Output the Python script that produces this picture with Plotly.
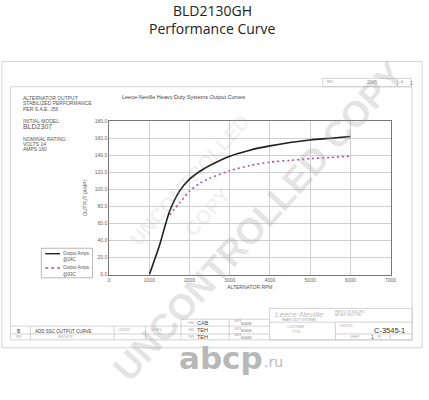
import plotly.graph_objects as go

# ---- data ----
rpm_24c = [1000, 1250, 1500, 1750, 2000, 2250, 2500, 3000, 3500, 4000, 4500, 5000, 5500, 6000]
amps_24c = [0, 34, 74, 98, 112, 121, 128, 139, 146, 151, 155, 158, 160, 162]
rpm_93c = [1500, 1750, 2000, 2250, 2500, 3000, 3500, 4000, 4500, 5000, 5500, 6000]
amps_93c = [70, 84, 98, 107, 113, 122, 128, 132, 134, 136, 137.5, 139]
x_ticks = [0, 1000, 2000, 3000, 4000, 5000, 6000, 7000]
y_ticks = [0, 20, 40, 60, 80, 100, 120, 140, 160, 180]

W, H = 429, 400
FONT = "Liberation Sans"


def X(px):
    return px / W


def Y(py):
    return 1 - py / H


fig = go.Figure()
fig.add_trace(go.Scatter(x=rpm_24c, y=amps_24c, mode="lines", name="Output Amps @24C",
                         line=dict(color="#1e1e1e", width=1.6, shape="spline", smoothing=0.6)))
fig.add_trace(go.Scatter(x=rpm_93c, y=amps_93c, mode="lines", name="Output Amps @93C",
                         line=dict(color="#b4519a", width=1.6, dash="2px,3px", shape="spline", smoothing=0.6)))

fig.update_layout(
    width=W, height=H, margin=dict(l=0, r=0, t=0, b=0),
    paper_bgcolor="white", plot_bgcolor="white", showlegend=False,
    font=dict(family=FONT, color="#555"),
    xaxis=dict(domain=[X(110), X(396)], range=[0, 7000], tickvals=x_ticks,
               ticktext=[str(v) for v in x_ticks], showgrid=True, gridcolor="#cfcfcf",
               gridwidth=1, showline=True, linecolor="#777", mirror=True, zeroline=False,
               ticks="", tickfont=dict(size=5, color="#666"),
               title=dict(text="ALTERNATOR RPM", font=dict(size=5, color="#555"), standoff=3)),
    yaxis=dict(domain=[Y(275.7), Y(120)], range=[0, 180], tickvals=y_ticks,
               ticktext=["%.1f" % v for v in y_ticks], showgrid=True, gridcolor="#cfcfcf",
               gridwidth=1, showline=True, linecolor="#777", mirror=True, zeroline=False,
               ticks="", tickfont=dict(size=5, color="#666"),
               title=dict(text="OUTPUT (AMP)", font=dict(size=5, color="#555"), standoff=6)),
)

shapes = []


def rect(x0, y0, x1, y1, color="#c8c8c8", w=0.8):
    shapes.append(dict(type="rect", xref="paper", yref="paper", x0=X(x0), x1=X(x1),
                       y0=Y(y1), y1=Y(y0), line=dict(color=color, width=w)))


def line(x0, y0, x1, y1, color="#c8c8c8", w=0.8, dash=None):
    d = dict(color=color, width=w)
    if dash:
        d["dash"] = dash
    shapes.append(dict(type="line", xref="paper", yref="paper", x0=X(x0), x1=X(x1),
                       y0=Y(y0), y1=Y(y1), line=d))


# drawing frames
rect(1, 59.5, 428, 350)
rect(9.5, 85, 418, 342)
rect(327, 76.5, 417, 85)
line(403, 76.5, 403, 85)
# revision block
line(10, 328, 273, 328)
line(10, 336, 273, 336)
line(183, 321, 273, 321)
for vx in [30, 115, 147]:
    line(vx, 328, vx, 342)
for vx in [183, 232]:
    line(vx, 321, vx, 342)
# title block
rect(273, 310, 418, 342)
line(273, 324, 418, 324)
line(340, 324, 340, 342)
line(340, 336, 418, 336)
# legend box
rect(41, 249, 93, 279, color="#999", w=0.7)
line(45, 254.5, 60, 254.5, color="#1e1e1e", w=1.4)
line(45, 269, 60, 269, color="#b4519a", w=1.4, dash="3px,3px")
fig.update_layout(shapes=shapes)

ann = []


def text(x, y, s, size=5, color="#555", anchor="left", angle=0, bold=False, family=FONT):
    if bold:
        s = "<b>" + s + "</b>"
    ann.append(dict(xref="paper", yref="paper", x=X(x), y=Y(y), text=s, showarrow=False,
                    xanchor=anchor, yanchor="middle", textangle=angle,
                    font=dict(size=size, color=color, family=family)))


# titles
text(214.5, 8, "BLD2130GH", size=14, color="#222", anchor="center", family="Open Sans")
text(214.5, 26, "Performance Curve", size=14, color="#222", anchor="center", family="Open Sans")
text(186, 95.7, "Leece-Neville Heavy Duty Systems Output Curves", size=5.5, color="#444", anchor="center")

# left info block
for yy, s, sz in [(96.7, "ALTERNATOR OUTPUT", 5), (102, "STABILIZED PERFORMANCE", 5),
                  (107.3, "PER S.A.E. J56 .", 5), (119.3, "INITIAL MODEL:", 5),
                  (125.7, "BLD2307", 7), (137.7, "NOMINAL RATING:", 5),
                  (143, "VOLTS 14", 5), (148.7, "AMPS 160", 5)]:
    text(20.5, yy, s, size=sz, color="#555")

# legend texts
text(61, 254, "Output Amps", size=4.5)
text(61, 260, "@24C", size=4.5)
text(61, 269, "Output Amps", size=4.5)
text(61, 276, "@93C", size=4.5)

# top right box
text(329, 80.5, "REV", size=3, color="#999")
text(370, 80.5, "2045", size=4.5, color="#888")
text(405, 80.5, "A", size=3, color="#999")
text(414, 80.8, "1", size=5, color="#777")

# revision block texts
text(18, 333, "B", size=5, color="#444", anchor="center")
text(33, 333, "ADD SSC OUTPUT CURVE", size=4.5, color="#444")
text(18, 339, "REV", size=3, color="#aaa", anchor="center")
text(65, 339, "REVISION", size=3, color="#aaa", anchor="center")
text(125, 332, "12/08/09", size=3, color="#aaa", anchor="center")
text(158, 332, "NOTES", size=3, color="#aaa", anchor="center")
for yy, who in [(324.7, "CAB"), (332, "TEH"), (339, "TEH")]:
    text(188, yy, "DRN", size=2.8, color="#aaa")
    text(197, yy, who, size=5.5, color="#444")
    text(235, yy - 1.5, "DATE", size=2.8, color="#aaa")
    text(242, yy + 0.8, "6/04/09", size=3.2, color="#666")

# title block texts
text(303, 316, "<i>Leece-Neville</i>", size=8, color="#bbb", anchor="center")
text(303, 321.5, "HEAVY DUTY SYSTEMS", size=3, color="#999", anchor="center")
text(337, 313.5, "PRESTOLITE ELECTRIC", size=2.6, color="#aaa")
text(337, 317, "ARCADE, NEW YORK", size=2.6, color="#aaa")
text(300, 329, "CUSTOMER", size=3, color="#aaa", anchor="center")
text(300, 334, "TITLE", size=3, color="#aaa", anchor="center")
text(343, 328, "DWG NO.", size=3, color="#aaa")
text(395, 332, "C-3545-1", size=7.5, color="#333", anchor="center")
text(360, 339, "SHEET", size=3, color="#aaa", anchor="center")
text(378, 339, "1", size=5, color="#555", anchor="center")
text(384, 339, "OF", size=3, color="#aaa", anchor="center")
text(396, 339, "1", size=4, color="#888", anchor="center")

# watermarks
text(192, 180, "UNCONTROLLED", size=20, color="rgba(170,170,170,0.18)", anchor="center", angle=-48, bold=True)
text(210, 212, "COPY", size=20, color="rgba(170,170,170,0.18)", anchor="center", angle=-48, bold=True)
text(262, 222, "UNCONTROLLED COPY", size=36, color="rgba(160,160,160,0.28)", anchor="center", angle=-48, bold=True)
text(224, 360, "abcp", size=31, color="#b8b8b8", anchor="center", bold=True, family="DejaVu Sans")
text(265, 364, ".ru", size=14, color="#b8b8b8", anchor="left", family="DejaVu Sans")

fig.update_layout(annotations=ann)
fig.write_html("out.html", config={"displayModeBar": False},
               post_script="document.body.style.margin='0';document.body.style.overflow='hidden';")
